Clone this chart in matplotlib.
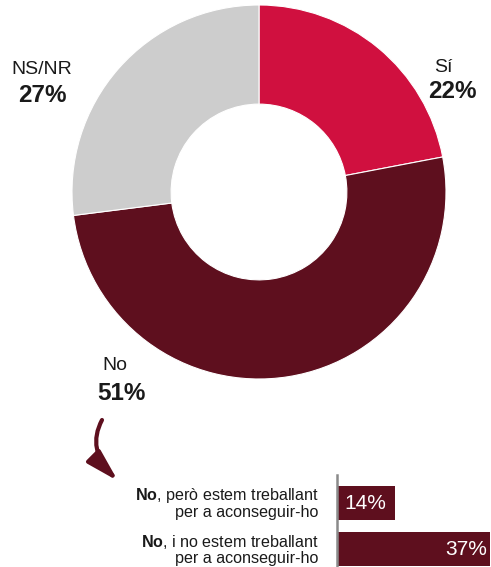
import matplotlib
matplotlib.use('agg')
import matplotlib.pyplot as plt

plt.rcParams['font.family'] = ['Liberation Sans', 'DejaVu Sans']
plt.rcParams['mathtext.fontset'] = 'custom'
plt.rcParams['mathtext.bf'] = 'Liberation Sans:bold'
plt.rcParams['mathtext.rm'] = 'Liberation Sans'

# donut data
labels = ['Sí', 'No', 'NS/NR']
values = [22, 51, 27]
colors = ['#D0103F', '#5E0F1E', '#CDCDCD']

# breakdown of "No"
bar_labels = [r'$\bf{No}$, però estem treballant' + '\nper a aconseguir-ho',
              r'$\bf{No}$, i no estem treballant' + '\nper a aconseguir-ho']
bar_values = [14, 37]

W, H = 491, 567
fig = plt.figure(figsize=(W / 100, H / 100), dpi=100)

# main axes in pixel coordinates (y up)
ax = fig.add_axes([0, 0, 1, 1])

cx, cy, r = 259, H - 192, 187
ax.pie(values, colors=colors, startangle=90, counterclock=False,
       center=(cx, cy), radius=r, frame=True,
       wedgeprops=dict(width=r * 0.53, edgecolor='white', linewidth=0.8))
ax.set_xlim(0, W)
ax.set_ylim(0, H)
ax.set_aspect('equal')
ax.axis('off')

txt = '#1a1a1a'
# (label x, label y, pct x, pct y) in pixels from top
lab_pos = {'Sí': (443, 67, 452, 92), 'No': (115, 366, 121, 393),
           'NS/NR': (42, 69, 42, 95)}
for lab, v in zip(labels, values):
    x1, y1, x2, y2 = lab_pos[lab]
    ax.text(x1, H - y1, lab, ha='center', va='center', fontsize=14, color=txt)
    ax.text(x2, H - y2, f'{v}%', ha='center', va='center', fontsize=17.5,
            fontweight='bold', color=txt)

# curved arrow
ax.annotate('', xy=(118, H - 481), xytext=(102, H - 420),
            arrowprops=dict(arrowstyle='-|>,head_length=1.5,head_width=0.42',
                            color='#5E0F1E', lw=3, mutation_scale=13,
                            shrinkA=0, shrinkB=0,
                            connectionstyle='angle3,angleA=-118,angleB=135'))

# bar axes
bx0, by0, bw, bh = 337, 0, 154, 92
bax = fig.add_axes([bx0 / W, by0 / H, bw / W, bh / H])
ypos = [1, 0]
bax.barh(ypos, bar_values, height=0.74, color='#5E0F1E')
bax.set_xlim(0, 37.2)
bax.set_ylim(-0.39, 1.61)
for s in ['top', 'right', 'bottom']:
    bax.spines[s].set_visible(False)
bax.spines['left'].set_color('#8a8a8a')
bax.spines['left'].set_linewidth(1.8)
bax.set_xticks([])
bax.set_yticks([])
bax.patch.set_alpha(0)

bax.text(1.8, ypos[0], f'{bar_values[0]}%', ha='left', va='center',
         color='white', fontsize=15)
bax.text(bar_values[1] - 0.7, ypos[1], f'{bar_values[1]}%', ha='right',
         va='center', color='white', fontsize=15)

for lab, y in zip(bar_labels, ypos):
    bax.text(-4.4, y, lab, ha='right', va='center', fontsize=11.6,
             color=txt, linespacing=1.0, transform=bax.transData,
             clip_on=False)

fig.savefig('out.png', dpi=100)
